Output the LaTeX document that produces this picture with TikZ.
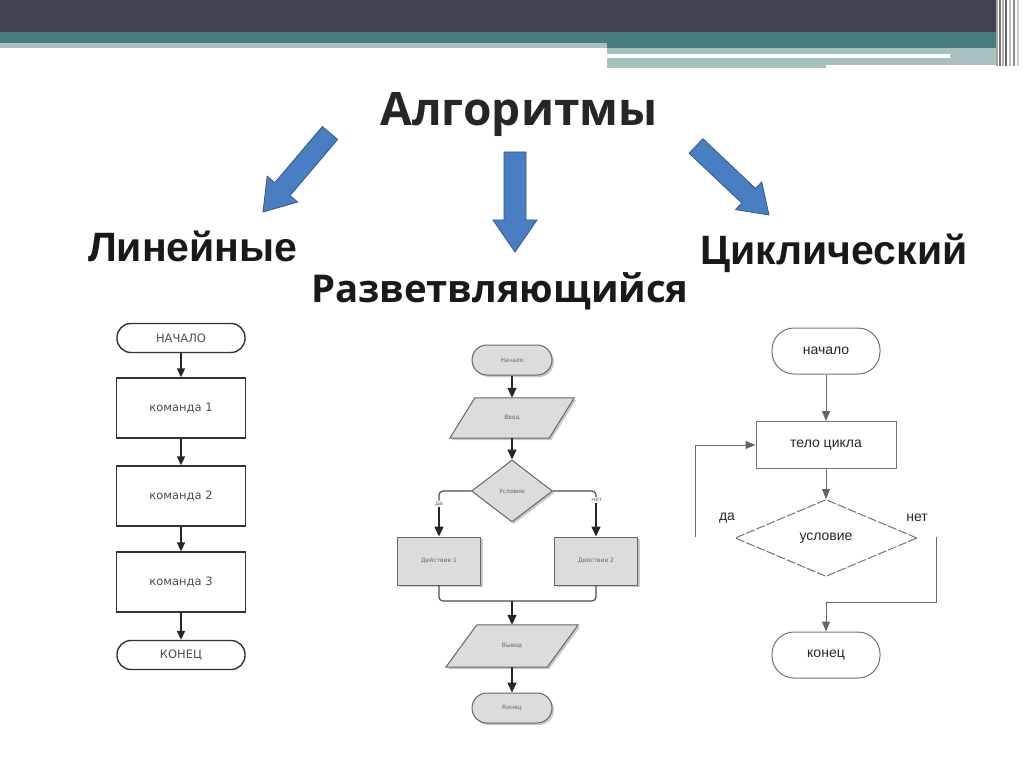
\documentclass[tikz,border=0pt]{standalone}
\usepackage{fontspec}
\setmainfont{Liberation Sans}
\newfontfamily\djv{DejaVu Sans}
\newfontfamily\opensans{Open Sans}
\usetikzlibrary{arrows.meta,shapes.geometric,calc,shadows}
\definecolor{hdrdark}{HTML}{404352}
\definecolor{hdrteal}{HTML}{467E7E}
\definecolor{hdrlight}{HTML}{A8C0C0}
\definecolor{arrblue}{HTML}{4A7EC2}
\definecolor{arredge}{HTML}{2F5A8E}
\definecolor{boxgray}{HTML}{DCDCDC}
\newcommand\BlueArrow[5]{% tail, tip, shaft half width, head half width, head length
  \coordinate (bT) at #1; \coordinate (bP) at #2;
  \coordinate (bB) at ($(bP)!#5!(bT)$);
  \fill[arrblue,draw=arredge,line width=0.8pt,line join=miter]
    ($(bT)!#3!90:(bP)$) -- ($(bB)!#3!-90:(bT)$) -- ($(bB)!#4!-90:(bT)$) -- (bP)
    -- ($(bB)!#4!90:(bT)$) -- ($(bB)!#3!90:(bT)$) -- ($(bT)!#3!-90:(bP)$) -- cycle;}
\newcommand\ParaShape[2]{% node name, slant offset
  \path[mfill] (#1.south west) -- ([xshift=-#2]#1.south east) -- (#1.north east)
    -- ([xshift=#2]#1.north west) -- cycle;}
\tikzset{
  title/.style={font=\opensans\bfseries\fontsize{46}{50}\selectfont, text=black!85, inner sep=0pt},
  subos/.style={font=\opensans\bfseries\fontsize{38.3}{42}\selectfont, text=black!90, inner sep=0pt},
  sub/.style={font=\bfseries\fontsize{41}{44}\selectfont, text=black!90, inner sep=0pt},
  lterm/.style={draw=black!80, line width=1.4pt, rounded corners=14pt, minimum width=128pt, minimum height=29pt, inner sep=0pt, font=\djv\fontsize{11.5}{13}\selectfont, text=black!70},
  lbox/.style={draw=black!80, line width=1.4pt, minimum width=129pt, minimum height=60pt, inner sep=0pt, font=\djv\fontsize{11.5}{13}\selectfont, text=black!70},
  larr/.style={draw=black!85, line width=1.8pt, -{Triangle[length=9pt,width=8pt]}},
  mfill/.style={draw=black!60, fill=boxgray, line width=1pt, inner sep=0pt, font=\djv\fontsize{6}{7}\selectfont, text=black!60, drop shadow={shadow xshift=2pt, shadow yshift=-2pt, fill=black!35, opacity=0.6}},
  mterm/.style={mfill, rounded corners=15pt, minimum width=80pt, minimum height=30pt},
  mbox/.style={mfill, minimum width=83pt, minimum height=48pt},
  mpar/.style={inner sep=0pt, font=\djv\fontsize{6}{7}\selectfont, text=black!60, minimum height=40pt},
  mdia/.style={mfill, diamond, minimum width=81pt, minimum height=62pt},
  marr/.style={draw=black!85, line width=1.5pt, -{Triangle[length=10pt,width=9pt]}},
  mline/.style={draw=black!70, line width=1.2pt, rounded corners=4pt},
  mlab/.style={font=\djv\fontsize{6}{7}\selectfont, text=black!60, inner sep=1pt},
  rterm/.style={draw=black!55, line width=1pt, rounded corners=22pt, minimum width=108pt, minimum height=46pt, inner sep=0pt, font=\fontsize{14}{16}\selectfont, text=black!85},
  rbox/.style={draw=black!55, line width=1pt, minimum width=140pt, minimum height=47pt, inner sep=0pt, font=\fontsize{14}{16}\selectfont, text=black!85},
  rdia/.style={draw=black!55, line width=1pt, dash pattern=on 9pt off 2pt, diamond, minimum width=182pt, minimum height=77pt, inner sep=0pt, font=\fontsize{14}{16}\selectfont, text=black!85},
  rarr/.style={draw=black!60, line width=1pt, -{Triangle[length=10pt,width=8pt]}},
  rlab/.style={font=\fontsize{14}{16}\selectfont, text=black!85, inner sep=0pt}
}
\begin{document}
\begin{tikzpicture}[x=1pt,y=-1pt]
\useasboundingbox (0,0) rectangle (1024,767);
\fill[white] (0,0) rectangle (1024,767);
% header
\fill[hdrdark] (0,0) rectangle (996,32);
\fill[hdrteal] (0,32) rectangle (996,48);
\fill[hdrlight] (0,43) rectangle (607,48);
\fill[hdrlight] (607,48) rectangle (996,65);
\fill[white] (607,54) rectangle (950,58);
\fill[hdrlight] (607,65) rectangle (826,68);
\foreach \xx/\cc in {997/black!35,1000/black!55,1003/black!30,1006/black!60,1010/black!25,1014/black!45,1018/black!20}
  \draw[\cc, line width=1.5pt] (\xx,0) -- (\xx,66);
% titles
\node[title] (alg) at (519,115) {Алгоритмы};
\node[sub, anchor=west] (lin) at (88,246) {Линейные};
\node[subos, anchor=west] (raz) at (311,291) {Разветвляющийся};
\node[sub, anchor=west] (cyc) at (700,253) {Циклический};
% blue arrows
\BlueArrow{(330,133)}{(263,212)}{10pt}{20pt}{30pt}
\BlueArrow{(515,152)}{(515,252)}{11pt}{22pt}{32pt}
\BlueArrow{(696,146)}{(769,215)}{10pt}{19pt}{28pt}
% linear flowchart
\node[lterm] (l0) at (181,338) {НАЧАЛО};
\node[lbox] (l1) at (181,408) {команда 1};
\node[lbox] (l2) at (181,496) {команда 2};
\node[lbox] (l3) at (181,582) {команда 3};
\node[lterm] (l4) at (181,655) {КОНЕЦ};
\draw[larr] (l0) -- (l1);
\draw[larr] (l1) -- (l2);
\draw[larr] (l2) -- (l3);
\draw[larr] (l3) -- (l4);
% branching flowchart
\node[mterm] (m0) at (512,360) {Начало};
\node[mpar, minimum width=124pt] (m1) at (512,418) {};
\ParaShape{m1}{25pt}
\node[mpar] at (m1) {Ввод};
\node[mdia] (m2) at (512,491) {Условие};
\node[mbox] (m3) at (439,561) {Действие 1};
\node[mbox] (m4) at (596,561) {Действие 2};
\node[mpar, minimum width=132pt, minimum height=42pt] (m5) at (512,646) {};
\ParaShape{m5}{31pt}
\node[mpar] at (m5) {Вывод};
\node[mterm] (m6) at (512,708) {Конец};
\node[mlab] (mda) at (439,504) {да};
\node[mlab] (mnet) at (597,500) {нет};
\coordinate (mj) at (512,601);
\draw[marr] (m0) -- (m1);
\draw[marr] (m1) -- (m2);
\draw[mline] (m2.west) -| (m3.north |- mda.north);
\draw[marr] (m3.north |- mda.south) -- (m3.north);
\draw[mline] (m2.east) -| (m4.north |- mnet.north);
\draw[marr] (m4.north |- mnet.south) -- (m4.north);
\draw[mline] (m3.south) |- (mj) -| (m4.south);
\draw[marr] (mj) -- (m5.north);
\draw[marr] (m5) -- (m6);
% cyclic flowchart
\node[rterm] (c0) at (826,351) {начало};
\node[rbox] (c1) at (826,445) {тело цикла};
\node[rdia] (c2) at (826,538) {условие};
\node[rterm] (c3) at (826,655) {конец};
\node[rlab] (cda) at (727,518) {да};
\node[rlab] (cnet) at (917,518) {нет};
\coordinate (cy1) at (695,537);
\coordinate (cn1) at (936,537);
\coordinate (cn2) at (936,602);
\draw[rarr] (c0) -- (c1);
\draw[rarr] (c1) -- (c2);
\draw[rarr] (cy1) |- (c1.west);
\draw[rarr] (cn1) -- (cn2) -| (c3.north);
\end{tikzpicture}
\end{document}
